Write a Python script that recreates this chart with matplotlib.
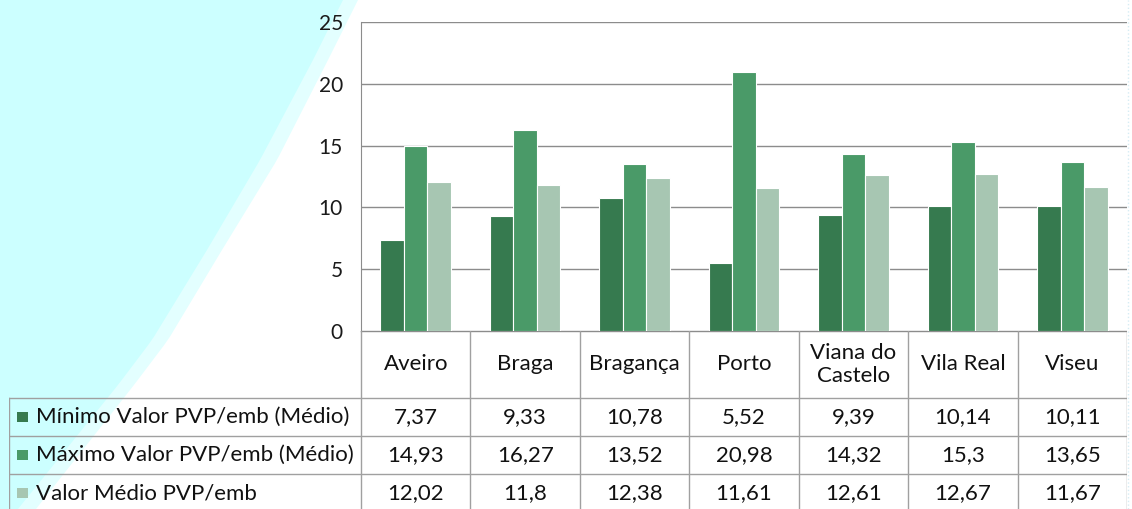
import numpy as np
import matplotlib.pyplot as plt
from matplotlib.patches import Polygon, Rectangle

plt.rcParams['font.family'] = ['Lato', 'DejaVu Sans']

categories = ['Aveiro', 'Braga', 'Bragança', 'Porto', 'Viana do\nCastelo', 'Vila Real', 'Viseu']
series_names = ['Mínimo Valor PVP/emb (Médio)', 'Máximo Valor PVP/emb (Médio)', 'Valor Médio PVP/emb']
minimo = [7.37, 9.33, 10.78, 5.52, 9.39, 10.14, 10.11]
maximo = [14.93, 16.27, 13.52, 20.98, 14.32, 15.3, 13.65]
medio = [12.02, 11.8, 12.38, 11.61, 12.61, 12.67, 11.67]
yticks = [0, 5, 10, 15, 20, 25]

colors = ['#367a4f', '#4a9a68', '#a7c6b2']
W, H = 1132, 509

fig = plt.figure(figsize=(W / 100, H / 100), dpi=100)

# background decoration (cyan curve on the left)
bg = fig.add_axes([0, 0, 1, 1], zorder=-5)
bg.set_xlim(0, W)
bg.set_ylim(H, 0)
bg.axis('off')
edge_y = [0, 60, 160, 250, 340, 385, 509]
edge_x = [343, 313, 260, 207, 152, 118, 18]
band_x = [358, 328, 277, 222, 168, 134, 36]
yy = np.linspace(0, 509, 60)
ex = np.interp(yy, edge_y, edge_x)
bx = np.interp(yy, edge_y, band_x)
bg.add_patch(Polygon(list(zip(bx, yy)) + [(0, 509), (0, 0)], closed=True, fc='#e3ffff', ec='none'))
bg.add_patch(Polygon(list(zip(ex, yy)) + [(0, 509), (0, 0)], closed=True, fc='#ccffff', ec='none'))

# plot area
x0, x1, ytop, ybot = 361, 1127, 22, 331
ax = fig.add_axes([x0 / W, (H - ybot) / H, (x1 - x0) / W, (ybot - ytop) / H])
ax.patch.set_alpha(0)
x = np.arange(len(categories))
bw = 0.215
for i, vals in enumerate([minimo, maximo, medio]):
    ax.bar(x + (i - 1) * bw, vals, bw, color=colors[i], edgecolor='white', linewidth=0.8, zorder=3)
ax.set_xlim(-0.5, len(categories) - 0.5)
ax.set_ylim(0, 25)
ax.set_yticks(yticks)
ax.set_xticks([])
ax.yaxis.grid(True, color='#8c8c8c', linewidth=1, zorder=0)
ax.tick_params(axis='y', length=0, pad=13, labelsize=15, labelcolor='#1a1a1a')
for s in ['top', 'right', 'bottom']:
    ax.spines[s].set_visible(False)
ax.spines['left'].set_color('#8c8c8c')

# data table below
cat_w = (x1 - x0) / len(categories)
tl = 9
tax = fig.add_axes([tl / W, 0, (x1 - tl) / W, (H - ybot) / H])
tax.set_xlim(-0.5 - (x0 - tl) / cat_w, len(categories) - 0.5)
tax.set_ylim(H, ybot)
tax.axis('off')
lc = '#a0a0a0'
left = -0.5 - (x0 - tl) / cat_w
right = len(categories) - 0.5
rows = [398, 436, 474, 512]
tax.plot([-0.5, right], [ybot, ybot], color='#8c8c8c', lw=1)
for r in rows[:-1]:
    tax.plot([left, right], [r, r], color=lc, lw=1)
tax.plot([left, left], [rows[0], H], color=lc, lw=1)
for i in range(len(categories) + 1):
    tax.plot([i - 0.5, i - 0.5], [ybot, H], color=lc, lw=1)

fs = 16
for i, c in enumerate(categories):
    tax.text(i, (ybot + rows[0]) / 2, c, ha='center', va='center', fontsize=fs,
             color='#111111', linespacing=1.15)

all_vals = [minimo, maximo, medio]
for j, name in enumerate(series_names):
    yc = (rows[j] + rows[j + 1]) / 2
    tax.add_patch(Rectangle((left + 8 / cat_w, yc - 5), 11 / cat_w, 10, fc=colors[j], ec='none'))
    tax.text(left + 27 / cat_w, yc, name, ha='left', va='center', fontsize=fs, color='#111111')
    for i, v in enumerate(all_vals[j]):
        tax.text(i, yc, f'{v:g}'.replace('.', ','), ha='center', va='center', fontsize=fs,
                 color='#111111')

# light frame line at the right
fig.add_artist(plt.Line2D([1128 / W, 1128 / W], [0, 1], color='#d6ecf4', lw=1, ls=':'))

fig.savefig('out.png', dpi=100)
